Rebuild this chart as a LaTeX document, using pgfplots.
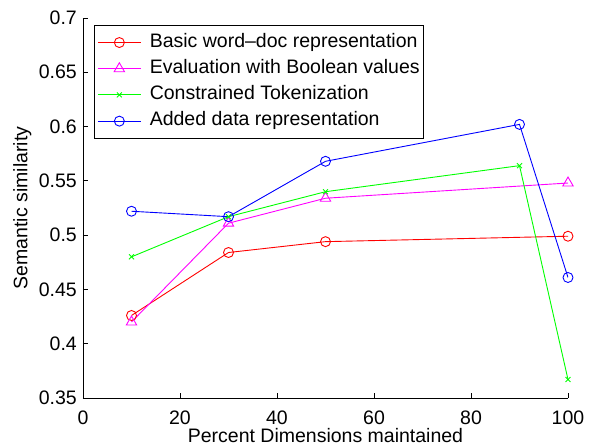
\documentclass[border=0pt]{standalone}
\usepackage{pgfplots}
\pgfplotsset{compat=1.18}
\usepackage{fontspec}
\setmainfont{Liberation Sans}
\definecolor{mred}{rgb}{1,0,0}
\definecolor{mmag}{rgb}{1,0,1}
\definecolor{mgreen}{rgb}{0,1,0}
\definecolor{mblue}{rgb}{0,0,1}
\begin{document}
\fontsize{19.5}{23}\selectfont
\begin{tikzpicture}
\useasboundingbox (-83pt,-48pt) rectangle (508pt,398pt);
\begin{axis}[
  at={(0pt,0pt)}, anchor=south west,
  scale only axis, width=485pt, height=380pt,
  xmin=0, xmax=100, ymin=0.35, ymax=0.7,
  xtick={0,20,40,60,80,100},
  ytick={0.35,0.4,0.45,0.5,0.55,0.6,0.65,0.7},
  axis x line=bottom, axis y line=left,
  axis line style={-, line width=0.8pt, black},
  tick align=inside, major tick length=5pt,
  tick style={line width=0.8pt, black},
  /pgf/number format/assume math mode=true,
  /pgf/number format/precision=2,
  tick label style={font=\fontsize{19.5}{23}\selectfont},
  xticklabel style={inner sep=0pt, anchor=north, yshift=-13pt},
  yticklabel style={inner sep=0pt, anchor=east, xshift=-6pt},
  label style={font=\fontsize{19.5}{23}\selectfont},
  xlabel={Percent Dimensions maintained},
  ylabel={Semantic similarity},
  xlabel style={at={(axis description cs:0.5,0)}, anchor=base, inner sep=0pt, yshift=-45pt},
  ylabel style={at={(axis description cs:-0.1443,0.5)}, anchor=north, rotate=0, inner sep=0pt},
  legend style={at={(11pt,373pt)}, anchor=north west, draw=black, line width=0.8pt,
    font=\fontsize{19.5}{23}\selectfont, inner xsep=3pt, inner ysep=7pt,
    row sep=5.9pt, column sep=7.5pt, cells={anchor=west},
    nodes={inner sep=1pt, text height=14pt, text depth=4.3pt}},
  legend cell align=left,
  legend image code/.code={\draw[mark repeat=2,mark phase=2,#1] plot coordinates {(0pt,0pt)(21.5pt,0pt)(43pt,0pt)};},
  every axis plot/.append style={line width=0.9pt},
]
\addplot[color=mred, mark=o, mark size=5pt] coordinates {(10,0.426) (30,0.484) (50,0.494) (100,0.499)};
\addlegendentry{Basic word--doc representation}
\addplot[color=mmag, mark=triangle, mark size=6pt] coordinates {(10,0.420) (30,0.511) (50,0.534) (100,0.548)};
\addlegendentry{Evaluation with Boolean values}
\addplot[color=mgreen, mark=x, mark size=3.5pt] coordinates {(10,0.480) (30,0.517) (50,0.540) (90,0.564) (100,0.367)};
\addlegendentry{Constrained Tokenization}
\addplot[color=mblue, mark=o, mark size=5pt] coordinates {(10,0.522) (30,0.517) (50,0.568) (90,0.602) (100,0.461)};
\addlegendentry{Added data representation}
\end{axis}
\end{tikzpicture}
\end{document}
